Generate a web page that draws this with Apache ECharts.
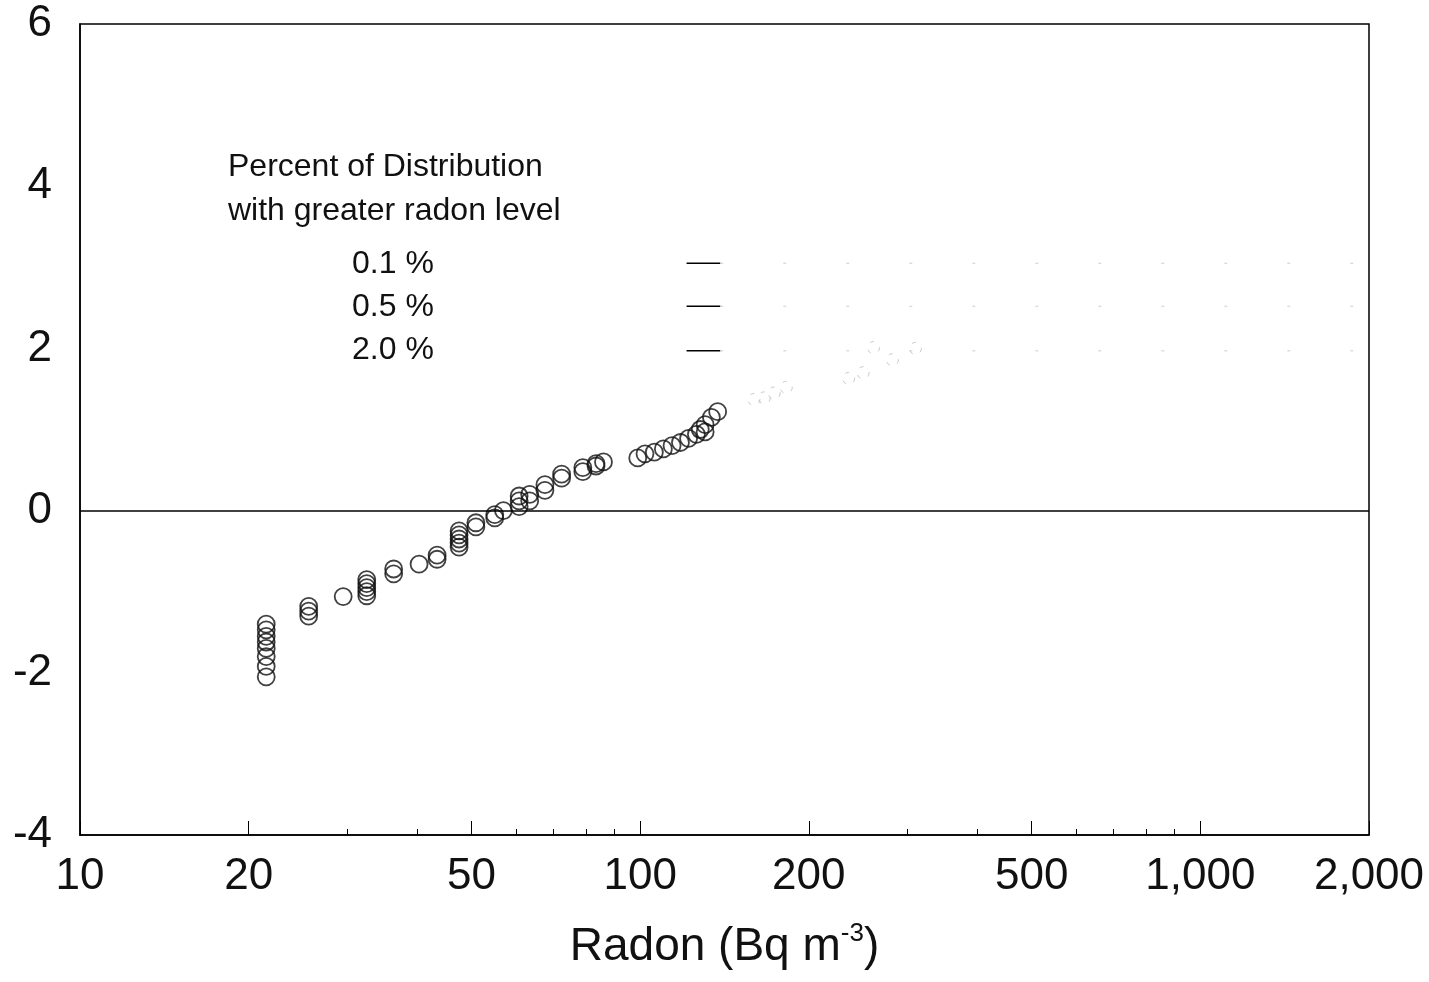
<!DOCTYPE html>
<html>
<head>
<meta charset="utf-8">
<title>Radon probability plot</title>
<script src="https://cdn.jsdelivr.net/npm/echarts@6/dist/echarts.min.js"></script>
<style>
  html, body { margin: 0; padding: 0; background: #fff; }
  #chart { width: 1429px; height: 982px; }
</style>
</head>
<body>
<div id="chart"></div>
<script>
// radon (Bq m-3) and normal score of each house
const radon = [
  21.5, 21.5, 21.5, 21.5, 21.5, 21.5, 21.5, 21.5,
  25.6, 25.6, 25.6,
  29.5,
  32.5, 32.5, 32.5, 32.5, 32.5,
  36.3, 36.3,
  40.3,
  43.4, 43.4,
  47.5, 47.5, 47.5, 47.5, 47.5,
  50.9, 50.9,
  55, 55, 57,
  60.8, 60.8, 60.8,
  63.5, 63.5,
  67.6, 67.6,
  72.4, 72.4,
  79, 79,
  83.4, 83.4, 86,
  99, 102, 106, 110, 114, 118, 122, 126, 128,
  130.6, 130.6, 134, 137.5
]
const score = [
  -1.40, -1.47, -1.55, -1.62, -1.70, -1.80, -1.92, -2.05,
  -1.18, -1.24, -1.30,
  -1.06,
  -0.85, -0.90, -0.95, -1.00, -1.05,
  -0.72, -0.78,
  -0.66,
  -0.55, -0.60,
  -0.25, -0.30, -0.35, -0.40, -0.45,
  -0.15, -0.20,
  -0.05, -0.09, 0.0,
  0.05, 0.12, 0.18,
  0.12, 0.20,
  0.25, 0.32,
  0.40, 0.45,
  0.48, 0.53,
  0.55, 0.58, 0.60,
  0.65, 0.70, 0.72, 0.76, 0.80, 0.84, 0.89, 0.94, 1.00,
  0.97, 1.06, 1.15, 1.22
]
// points that are only faintly visible in the scan
const radonFaint = [159.6, 166.6, 173.5, 182.3, 235.6, 250, 261, 282, 310]
const scoreFaint = [1.37, 1.39, 1.45, 1.52, 1.63, 1.70, 2.01, 1.86, 2.00]

// percentile reference levels
const levelLabels = ['0.1 %', '0.5 %', '2.0 %']
const levelScores = [3.05, 2.52, 1.97]
const levelKeyRange = [121, 139]

const xMajor = [10, 20, 50, 100, 200, 500, 1000, 2000]
const xMinor = [30, 40, 60, 70, 80, 90, 300, 400, 600, 700, 800, 900]

const font = 'Liberation Sans, Arial, sans-serif'

const chart = echarts.init(document.getElementById('chart'))

const getChartOption = () => {
  const points = radon.map((r, i) => [r, score[i]])
  const faint = radonFaint.map((r, i) => [r, scoreFaint[i]])

  const levelSeries = []
  levelScores.forEach((z, i) => {
    levelSeries.push({
      name: levelLabels[i],
      type: 'line',
      symbol: 'none',
      silent: true,
      lineStyle: { color: '#000', width: 1.5 },
      data: [[levelKeyRange[0], z], [levelKeyRange[1], z]]
    })
    levelSeries.push({
      name: levelLabels[i] + ' line',
      type: 'line',
      symbol: 'none',
      silent: true,
      lineStyle: { color: '#ccc', width: 1, type: [3, 60] },
      data: [[levelKeyRange[1], z], [2000, z]]
    })
  })

  return {
    animation: false,
    backgroundColor: '#fff',
    textStyle: { fontFamily: font },
    grid: {
      left: 80,
      right: 60,
      top: 24,
      bottom: 147,
      show: true,
      borderColor: '#000',
      borderWidth: 1.5
    },
    graphic: [
      {
        type: 'text',
        left: 228,
        top: 145,
        style: {
          text: 'Percent of Distribution\nwith greater radon level',
          font: '32px ' + font,
          lineHeight: 44,
          fill: '#111'
        }
      },
      {
        type: 'text',
        left: 352,
        top: 243,
        style: {
          text: levelLabels.join('\n'),
          font: '32px ' + font,
          lineHeight: 43,
          fill: '#111'
        }
      }
    ],
    xAxis: [
      {
        type: 'log',
        logBase: 10,
        min: 10,
        max: 2000,
        name: '{a|Radon (Bq m}{s|-3}{a|)}',
        nameLocation: 'middle',
        nameGap: 86,
        nameTextStyle: {
          rich: {
            a: { fontSize: 46, fontFamily: font, color: '#111', lineHeight: 52 },
            s: { fontSize: 26, fontFamily: font, color: '#111', verticalAlign: 'top', lineHeight: 52 }
          }
        },
        axisLine: { show: true, onZero: false, lineStyle: { color: '#000', width: 1.5 } },
        axisTick: { show: true, inside: true, length: 14, customValues: xMajor, lineStyle: { color: '#000' } },
        axisLabel: {
          customValues: xMajor,
          fontSize: 44,
          color: '#111',
          margin: 20,
          formatter: v => Number(v).toLocaleString('en-US')
        },
        splitLine: { show: false },
        minorTick: { show: false }
      },
      {
        type: 'log',
        logBase: 10,
        min: 10,
        max: 2000,
        position: 'bottom',
        axisLine: { show: false, onZero: false },
        axisTick: { show: true, inside: true, length: 6, customValues: xMinor, lineStyle: { color: '#000' } },
        axisLabel: { show: false, customValues: xMinor },
        splitLine: { show: false }
      }
    ],
    yAxis: {
      type: 'value',
      min: -4,
      max: 6,
      interval: 2,
      axisLine: { show: true, onZero: false, lineStyle: { color: '#000', width: 1.5 } },
      axisTick: { show: false },
      axisLabel: { fontSize: 44, color: '#111', margin: 28 },
      splitLine: { show: false }
    },
    series: [
      {
        name: 'houses',
        type: 'scatter',
        symbol: 'circle',
        symbolSize: 17,
        itemStyle: { color: 'transparent', borderColor: '#111', borderWidth: 1.8 },
        data: points,
        markLine: {
          silent: true,
          symbol: 'none',
          label: { show: false },
          lineStyle: { color: '#000', width: 1.5, type: 'solid' },
          data: [{ yAxis: 0 }]
        }
      },
      {
        name: 'faint',
        type: 'scatter',
        symbol: 'circle',
        symbolSize: 12,
        itemStyle: { color: 'transparent', borderColor: '#bbb', borderWidth: 1, borderType: [4, 8] },
        data: faint
      },
      ...levelSeries
    ]
  }
}

chart.setOption(getChartOption())
</script>
</body>
</html>
